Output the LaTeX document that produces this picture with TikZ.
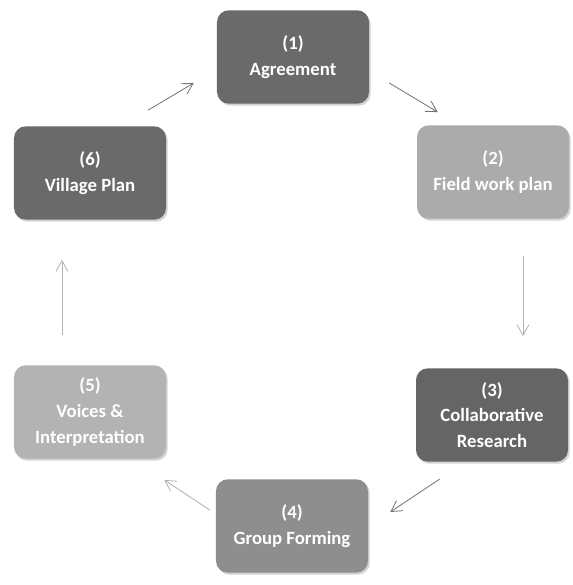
\documentclass[tikz,border=0pt]{standalone}
\usepackage{fontspec}
\setmainfont{Carlito}
\usetikzlibrary{calc,arrows.meta,shadows}

\definecolor{darkbox}{HTML}{6A6A6A}
\definecolor{midbox}{HTML}{8E8E8E}
\definecolor{lightbox}{HTML}{ABABAB}

\tikzset{
    stage/.style={rounded corners=10pt, minimum width=4.56cm, minimum height=2.8cm,
        text=white, align=center, font=\bfseries\fontsize{16}{22}\selectfont,
        drop shadow={opacity=0.35, shadow xshift=0.5mm, shadow yshift=-0.6mm}},
    flow/.style={-{Straight Barb[length=3.2mm, width=3.6mm]}, line width=0.7pt, black!55},
    faintflow/.style={flow, black!30}
}

\begin{document}
\begin{tikzpicture}[x=0.03cm, y=-0.03cm]
                \useasboundingbox (0, 0) rectangle (573, 585);

                \node[stage, fill=darkbox] (agree) at (293, 57) {(1)\\Agreement};
                \node[stage, fill=lightbox] (field) at (493, 172) {(2)\\Field work plan};
                \node[stage, fill=darkbox!95!black] (colab) at (492, 415) {(3)\\Collaborative\\Research};
                \node[stage, fill=midbox] (form) at (292, 526) {(4)\\Group Forming};
                \node[stage, fill=lightbox!90!white] (voices) at (90, 412) {(5)\\Voices \&\\Interpretation};
                \node[stage, fill=darkbox] (village) at (90, 173) {(6)\\Village Plan};

                \draw[flow] ($(agree.east)+(20, 26)$) -- ($(field.north west)+(21, -13)$);
                \draw[faintflow] ($(field.south)+(30, 37)$) -- ($(colab.north)+(31, -32)$);
                \draw[flow] ($(colab.south)+(-52, 17)$) -- ($(form.east)+(22, -14)$);
                \draw[faintflow] ($(form.west)+(-6, -16)$) -- ($(voices.south east)+(-2, 21)$);
                \draw[faintflow] ($(voices.north)+(-28, -30)$) -- ($(village.south)+(-28, 40)$);
                \draw[flow] ($(village.north east)+(-18, -16)$) -- ($(agree.west)+(-23, 26)$);
            \end{tikzpicture}
\end{document}
